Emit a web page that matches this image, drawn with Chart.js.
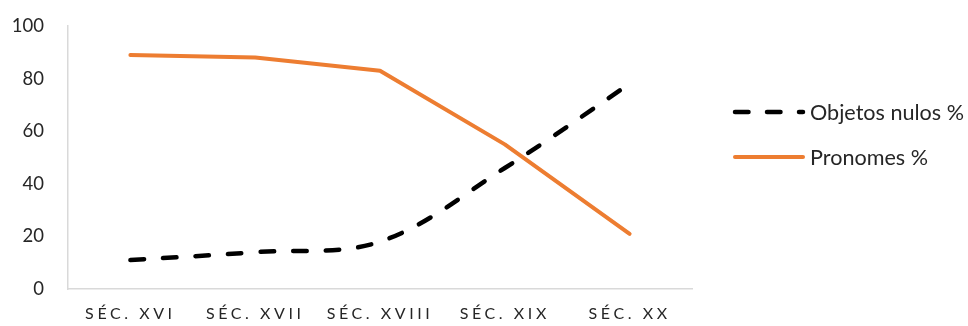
<!DOCTYPE html>
<html>
<head>
<meta charset="utf-8">
<title>Objetos nulos e pronomes</title>
<script src="https://cdn.jsdelivr.net/npm/chart.js@4.4.1/dist/chart.umd.min.js"></script>
<style>
  html, body { margin: 0; padding: 0; background: #fff; }
  #wrap { width: 968px; height: 326px; }
</style>
</head>
<body>
<div id="wrap"><canvas id="c" width="968" height="326"></canvas></div>
<script>
// Séculos (eixo horizontal)
const categories = ['SÉC. XVI', 'SÉC. XVII', 'SÉC. XVIII', 'SÉC. XIX', 'SÉC. XX'];
// Percentagens por século
const objetosNulos = [11, 14, 18, 46, 78];
const pronomes = [89, 88, 83, 55, 21];
// Marcas do eixo vertical
const yTicks = [0, 20, 40, 60, 80, 100];

const seriesNames = ['Objetos nulos %', 'Pronomes %'];
const textColor = '#262626';
const axisColor = '#d9d9d9';
const fontFamily = 'Lato, "Open Sans", sans-serif';

// Category labels with wide letter spacing, drawn under the x axis
const spacedXLabels = {
  id: 'spacedXLabels',
  afterDraw(chart) {
    const ctx = chart.ctx;
    const xs = chart.scales.x;
    ctx.save();
    ctx.font = '16px ' + fontFamily;
    // spread the first label over ~87px and reuse that spacing for all
    const first = categories[0];
    const plain = ctx.measureText(first).width;
    const spacing = Math.max(0, (87 - plain) / (first.length - 1));
    ctx.letterSpacing = spacing.toFixed(2) + 'px';
    ctx.fillStyle = textColor;
    ctx.textAlign = 'center';
    ctx.textBaseline = 'alphabetic';
    categories.forEach((lab, i) => {
      ctx.fillText(lab, xs.getPixelForTick(i), 319);
    });
    ctx.restore();
  }
};

// Legend on the right, one entry per line, using each dataset's own stroke
const sideLegend = {
  id: 'sideLegend',
  afterDraw(chart) {
    const ctx = chart.ctx;
    const rows = [112, 157];
    ctx.save();
    // size the legend text so the longer entry spans ~154px
    ctx.font = '20px ' + fontFamily;
    const w20 = ctx.measureText(seriesNames[0]).width;
    const size = 20 * 154 / w20;
    chart.data.datasets.forEach((ds, i) => {
      const y = rows[i];
      ctx.beginPath();
      ctx.strokeStyle = ds.borderColor;
      ctx.lineWidth = ds.borderWidth;
      ctx.lineCap = 'round';
      ctx.setLineDash(ds.borderDash ? [13.5, 18.5] : []);
      ctx.moveTo(735, y);
      ctx.lineTo(803, y);
      ctx.stroke();
      ctx.setLineDash([]);
      ctx.font = size.toFixed(2) + 'px ' + fontFamily;
      ctx.fillStyle = textColor;
      ctx.textAlign = 'left';
      ctx.textBaseline = 'alphabetic';
      ctx.fillText(ds.label, 810, y + 7.5);
    });
    ctx.restore();
  }
};

new Chart(document.getElementById('c'), {
  type: 'line',
  data: {
    labels: categories,
    datasets: [
      {
        label: seriesNames[0],
        data: objetosNulos,
        borderColor: '#000000',
        borderWidth: 4.5,
        borderDash: [13.5, 19.1],
        borderCapStyle: 'round',
        tension: 0.35,
        pointRadius: 0,
        fill: false
      },
      {
        label: seriesNames[1],
        data: pronomes,
        borderColor: '#ED7D31',
        borderWidth: 4,
        borderCapStyle: 'round',
        borderJoinStyle: 'round',
        tension: 0,
        pointRadius: 0,
        fill: false
      }
    ]
  },
  options: {
    responsive: false,
    animation: false,
    layout: { padding: { top: 26, right: 276, left: 0, bottom: 0 } },
    plugins: {
      legend: { display: false },
      tooltip: { enabled: false }
    },
    scales: {
      x: {
        type: 'category',
        offset: true,
        grid: { display: false, drawTicks: false },
        border: { display: true, color: axisColor, width: 1.5 },
        ticks: { display: false },
        afterFit(s) { s.height = 37; s.paddingLeft = 0; s.paddingRight = 0; }
      },
      y: {
        min: 0,
        max: 100,
        grid: { display: false, drawTicks: false },
        border: { display: true, color: axisColor, width: 1.5 },
        afterBuildTicks(s) { s.ticks = yTicks.map(v => ({ value: v })); },
        ticks: {
          padding: 24,
          color: textColor,
          font: { family: fontFamily, size: 18.5 }
        },
        afterFit(s) { s.width = 68; s.paddingTop = 0; s.paddingBottom = 0; }
      }
    }
  },
  plugins: [spacedXLabels, sideLegend]
});
</script>
</body>
</html>
